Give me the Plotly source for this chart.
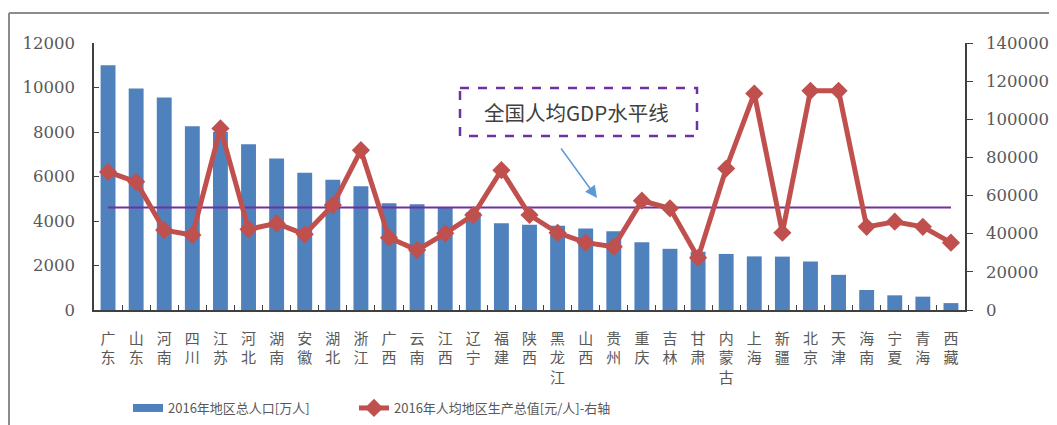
import plotly.graph_objects as go

provinces = ["广东", "山东", "河南", "四川", "江苏", "河北", "湖南", "安徽", "湖北", "浙江",
             "广西", "云南", "江西", "辽宁", "福建", "陕西", "黑龙江", "山西", "贵州", "重庆",
             "吉林", "甘肃", "内蒙古", "上海", "新疆", "北京", "天津", "海南", "宁夏", "青海", "西藏"]
population = [11000, 9950, 9550, 8260, 8000, 7450, 6810, 6170, 5850, 5560,
              4800, 4750, 4600, 4380, 3900, 3830, 3790, 3660, 3540, 3040,
              2750, 2620, 2520, 2410, 2400, 2180, 1580, 900, 660, 600, 310]
gdp_per_capita = [72400, 67200, 41900, 39300, 95200, 42300, 45400, 39700, 55000, 83800,
                  37900, 31400, 40200, 49800, 73300, 49800, 40500, 35300, 33200, 57300,
                  53300, 27400, 74200, 113500, 40500, 114900, 114900, 43600, 46300, 43600, 35300]
national_gdp = 53800
left_ticks = [0, 2000, 4000, 6000, 8000, 10000, 12000]
right_ticks = [0, 20000, 40000, 60000, 80000, 100000, 120000, 140000]

name_pop = "2016年地区总人口[万人]"
name_gdp = "2016年人均地区生产总值[元/人]-右轴"
note_text = "全国人均GDP水平线"

BLUE = "#4F81BD"
RED = "#C0504D"
PURPLE = "#7030A0"
GRAY = "#595959"
AX = "#404040"
SERIF = "DejaVu Serif"

tick_text = ["<br>".join(list(p)) for p in provinces]

fig = go.Figure()
fig.add_trace(go.Bar(x=provinces, y=population, marker=dict(color=BLUE, line=dict(width=0)),
                     width=0.53, showlegend=False, name=name_pop))
fig.add_trace(go.Scatter(x=[None], y=[None], mode="lines", line=dict(color=BLUE, width=8),
                         name=name_pop, showlegend=True, legend="legend"))
fig.add_trace(go.Scatter(x=provinces, y=[national_gdp] * len(provinces), yaxis="y2", mode="lines",
                         line=dict(color=PURPLE, width=2), showlegend=False, hoverinfo="skip"))
fig.add_trace(go.Scatter(x=provinces, y=gdp_per_capita, yaxis="y2", mode="lines+markers",
                         line=dict(color=RED, width=5),
                         marker=dict(symbol="diamond", size=14, color=RED),
                         name=name_gdp, legend="legend2"))

# page body has an 8px margin; figure sized to fit the visible window
OFF = 8
W, H = 1057 - OFF, 425 - OFF
L, T = 94 - OFF, 43 - OFF
R = W - (965 - OFF)
B = H - (310 - OFF)
pw, ph = W - L - R, H - T - B

def px(x):  # screen x -> paper
    return (x - OFF - L) / pw

def py(y):  # screen y -> paper
    return (H - B - (y - OFF)) / ph

fig.update_layout(
    width=W, height=H,
    margin=dict(l=L, r=R, t=T, b=B, autoexpand=False),
    plot_bgcolor="white", paper_bgcolor="white",
    xaxis=dict(type="category", range=[-0.5, len(provinces) - 0.5], automargin=False,
               tickmode="array", tickvals=provinces, ticktext=tick_text,
               ticks="inside", tickson="boundaries", ticklen=5, tickcolor=AX,
               showline=True, linecolor=AX, linewidth=1.5, showgrid=False,
               tickfont=dict(family="Noto Sans CJK SC", size=15, color=GRAY),
               ticklabelstandoff=14),
    yaxis=dict(range=[0, 12000], tickmode="array", tickvals=left_ticks,
               ticktext=[str(v) for v in left_ticks], automargin=False,
               ticks="inside", ticklen=5, tickcolor=AX,
               showline=True, linecolor=AX, linewidth=1.5, showgrid=False, zeroline=False,
               tickfont=dict(family=SERIF, size=16.5, color=GRAY),
               ticklabelstandoff=14),
    yaxis2=dict(range=[0, 140000], tickmode="array", tickvals=right_ticks,
                ticktext=[str(v) for v in right_ticks], automargin=False,
                overlaying="y", side="right",
                ticks="outside", ticklen=6, tickcolor=AX,
                showline=True, linecolor=AX, linewidth=1.5, showgrid=False, zeroline=False,
                tickfont=dict(family=SERIF, size=16.5, color=GRAY),
                ticklabelstandoff=10),
    legend=dict(x=px(128), y=py(408), xanchor="left", yanchor="middle", orientation="h",
                font=dict(family="Noto Sans CJK SC", size=13, color=GRAY),
                itemwidth=30, bgcolor="rgba(0,0,0,0)"),
    legend2=dict(x=px(354), y=py(408), xanchor="left", yanchor="middle", orientation="h",
                 font=dict(family="Noto Sans CJK SC", size=13, color=GRAY),
                 itemwidth=30, bgcolor="rgba(0,0,0,0)"),
    shapes=[
        dict(type="line", xref="paper", yref="paper", x0=px(9), x1=px(1070), y0=py(13), y1=py(13),
             line=dict(color="#8C8C8C", width=2)),
        dict(type="line", xref="paper", yref="paper", x0=px(9), x1=px(9), y0=py(13), y1=py(440),
             line=dict(color="#8C8C8C", width=2)),
        dict(type="rect", xref="paper", yref="paper", x0=px(460), x1=px(697), y0=py(88), y1=py(136),
             line=dict(color=PURPLE, width=2.5, dash="dash")),
    ],
    annotations=[
        dict(text=note_text, xref="paper", yref="paper", x=px(576), y=py(112),
             showarrow=False, xanchor="center", yanchor="middle",
             font=dict(family="Noto Sans CJK SC", size=20.5, color="#404040")),
        dict(text="", xref="paper", yref="paper", x=px(597), y=py(198),
             axref="pixel", ayref="pixel", ax=-37, ay=-51,
             showarrow=True, arrowhead=2, arrowsize=1.6, arrowwidth=1.5, arrowcolor="#5B9BD5"),
    ],
)

fig.write_html("out.html")
